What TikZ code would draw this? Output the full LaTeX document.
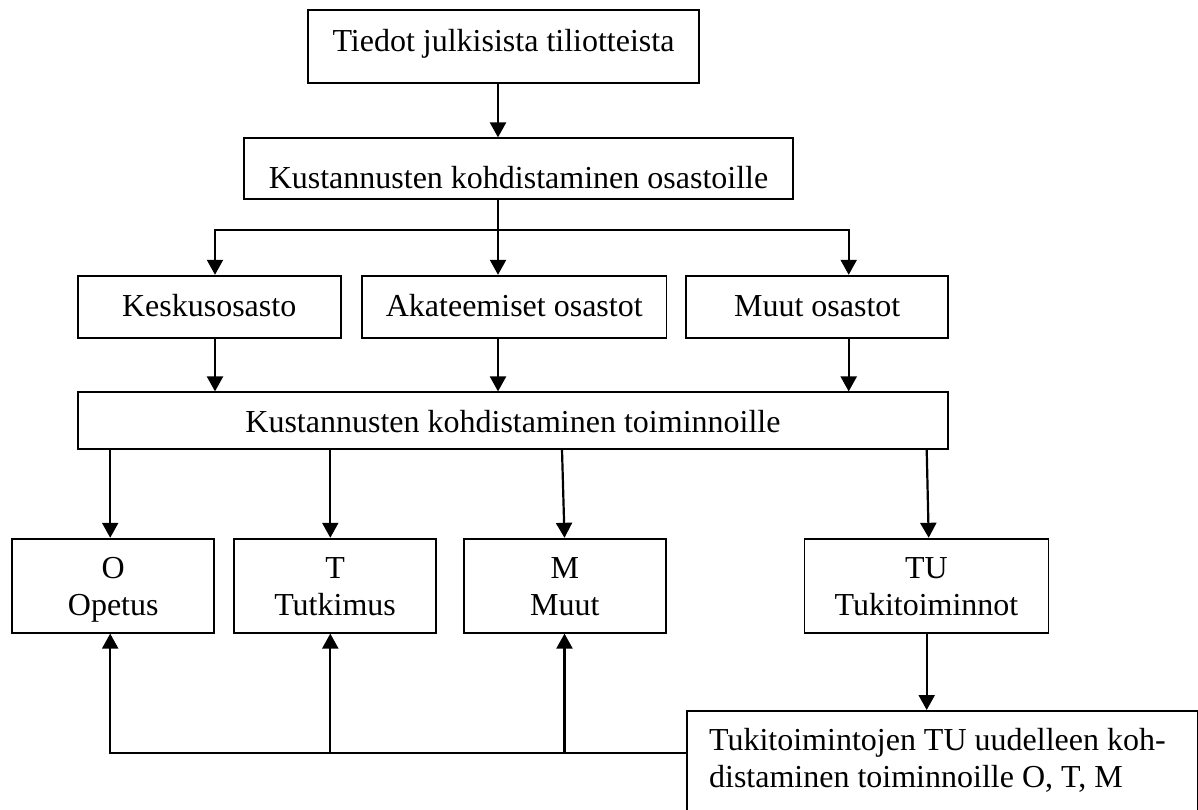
\documentclass[tikz,border=0pt]{standalone}
\usepackage{fontspec}
\setmainfont{Liberation Serif}
\usetikzlibrary{arrows.meta}

% two stacked lines with fixed first-line height and last-line depth
\newcommand{\stackedlabel}[2]{\rule{0pt}{31pt}#1\\#2\rule[-8pt]{0pt}{8pt}}

\begin{document}
\begin{tikzpicture}[x=1pt, y=-1pt,
  box/.style={draw, line width=1.8pt, inner sep=0pt, align=center,
    font=\fontsize{32pt}{36.5pt}\selectfont},
  arr/.style={line width=2.2pt, -{Triangle[width=16pt,length=15pt]}},
  twoway/.style={line width=2.2pt, {Triangle[width=16pt,length=15pt]}-{Triangle[width=16pt,length=15pt]}},
  back/.style={line width=2.2pt, {Triangle[width=16pt,length=15pt]}-},
  rowthree/.style={box, minimum height=62.6pt, text height=26.4pt, text depth=7pt},
  rowfive/.style={box, minimum height=94pt}]

\clip (0,0) rectangle (1198,809);
\fill[white] (0,0) rectangle (1198,809);

% boxes
\node[box, minimum width=391pt, minimum height=73pt, text height=22pt, text depth=11.6pt]
  (src) at (503.5,46.5) {Tiedot julkisista tiliotteista};
\node[box, minimum width=548.4pt, minimum height=61pt, text height=39pt, text depth=0pt]
  (alloc) at (518.5,168.8) {Kustannusten kohdistaminen osastoille};

\node[rowthree, minimum width=262.9pt] (kesk) at (209.15,307) {Keskusosasto};
\node[rowthree, minimum width=304.5pt] (akat) at (514.25,307) {Akateemiset osastot};
\node[rowthree, minimum width=262pt]   (muut) at (817.2,307) {Muut osastot};

\node[box, minimum width=870.5pt, minimum height=56.7pt, text height=30.3pt, text depth=7pt]
  (act) at (512.95,420.65) {Kustannusten kohdistaminen toiminnoille};

\node[rowfive, minimum width=202.1pt] (O)  at (113.25,585.7) {\stackedlabel{O}{Opetus}};
\node[rowfive, minimum width=202.5pt] (T)  at (335.05,585.7) {\stackedlabel{T}{Tutkimus}};
\node[rowfive, minimum width=202.2pt] (M)  at (564.9,585.7)  {\stackedlabel{M}{Muut}};
\node[rowfive, minimum width=244.1pt] (TU) at (926.45,585.7) {\stackedlabel{TU}{Tukitoiminnot}};

\node[box, anchor=north west, align=flush left, text width=467pt, inner xsep=22pt, inner ysep=0pt]
  (re) at (686.2,710)
  {\rule{0pt}{40pt}Tukitoimintojen TU uudelleen koh-\\distaminen toiminnoille O, T, M\rule[-40pt]{0pt}{0pt}};

% connector columns and rails
\coordinate (xa)  at (498,0);
\coordinate (xk)  at (215,0);
\coordinate (xm)  at (848.7,0);
\coordinate (xo)  at (110.2,0);
\coordinate (xt)  at (330.3,0);
\coordinate (xmt) at (562,0);
\coordinate (xmu) at (564.5,0);
\coordinate (xtt) at (926.7,0);
\coordinate (xtb) at (928.7,0);
\coordinate (bus) at (0,230);
\coordinate (fb)  at (0,752.7);

% top part
\draw[arr] (xa |- src.south) -- (xa |- alloc.north);
\draw[arr] (xa |- alloc.south) -- (xa |- akat.north);
\draw[twoway] (xk |- kesk.north) -- (xk |- bus) -- (xm |- bus) -- (xm |- muut.north);

% departments to activity allocation
\draw[arr] (xk |- kesk.south) -- (xk |- act.north);
\draw[arr] (xa |- akat.south) -- (xa |- act.north);
\draw[arr] (xm |- muut.south) -- (xm |- act.north);

% activity allocation to activities
\draw[arr] (xo |- act.south) -- (xo |- O.north);
\draw[arr] (xt |- act.south) -- (xt |- T.north);
\draw[arr] (xmt |- act.south) -- (xmu |- M.north);
\draw[arr] (xtt |- act.south) -- (xtb |- TU.north);

% support functions reallocated
\draw[arr] (xtt |- TU.south) -- (xtt |- re.north);
\draw[back] (xo |- O.south) -- (xo |- fb) -- (re.west |- fb);
\draw[back] (xt |- T.south) -- (xt |- fb);
\draw[back] (xmu |- M.south) -- (xmu |- fb);

\end{tikzpicture}
\end{document}
